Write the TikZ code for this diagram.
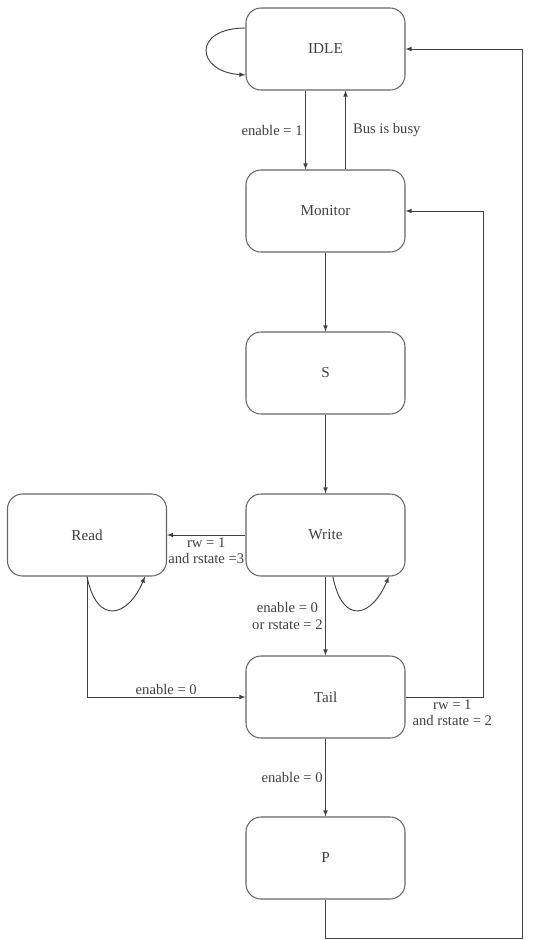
\documentclass[tikz,border=0pt]{standalone}
\usepackage{fontspec}
\setmainfont{Liberation Serif}
\usepackage{tikz}
\usetikzlibrary{arrows, positioning}
\tikzset{>=latex}
\tikzset{
  fsmstate/.style={draw=black!60, line width=0.9pt, rounded corners=0.45cm,
    minimum width=4.77cm, minimum height=2.46cm, text=black!75,
    font=\fontsize{13}{15}\selectfont},
  lbl/.style={text=black!75, font=\fontsize{12.5}{14}\selectfont, align=center, inner sep=2pt},
  trans/.style={->, draw=black!75, line width=0.8pt}
}

\begin{document}
\begin{tikzpicture}[x=0.03cm, y=-0.03cm]
        \useasboundingbox (0,0) rectangle (535,940);
        % states
        \node[fsmstate] (idle) at (325.5,49) {IDLE};
        \node[fsmstate] (mon) at (325.5,211) {Monitor};
        \node[fsmstate] (s) at (325.5,373) {S};
        \node[fsmstate] (write) at (325.5,535) {Write};
        \node[fsmstate] (read) at (87,535) {Read};
        \node[fsmstate] (tail) at (325.5,697) {Tail};
        \node[fsmstate] (p) at (325.5,858) {P};

        % transitions down the middle
        \draw[trans] ([xshift=-0.6cm]idle.south) -- node[lbl, left] {enable = 1} ([xshift=-0.6cm]mon.north);
        \draw[trans] ([xshift=0.6cm]mon.north) -- node[lbl, right, xshift=4pt] {Bus is busy} ([xshift=0.6cm]idle.south);
        \draw[trans] (mon.south) -- (s.north);
        \draw[trans] (s.south) -- (write.north);
        \draw[trans] (write.south) -- node[lbl, left] {enable = 0\\or rstate = 2} (tail.north);
        \draw[trans] (tail.south) -- node[lbl, left] {enable = 0} (p.north);

        % read branch
        \draw[trans] (write.west) -- node[lbl, below] {rw = 1\\and rstate =3} (read.east);
        \draw[trans] (read.south) |- node[lbl, above, pos=0.75] {enable = 0} (tail.west);

        % self loops
        \draw[trans] ([yshift=0.63cm]idle.west) .. controls +(-1.6cm,0cm) and +(-1.5cm,0.1cm) .. ([yshift=-0.78cm]idle.west);
        \draw[trans] ([xshift=0.22cm]write.south) .. controls +(0.3cm,-1.5cm) and +(-0.5cm,-1.2cm) .. ([xshift=1.9cm]write.south);
        \draw[trans] (read.south) .. controls +(0.3cm,-1.5cm) and +(-0.5cm,-1.2cm) .. ([xshift=1.74cm]read.south);

        % back edges on the right
        \draw[trans] (tail.east) -| node[lbl, below, pos=0.3] {rw = 1\\and rstate = 2} ([xshift=2.34cm]mon.east) -- (mon.east);
        \draw[trans] (p.south) -- ++(0,39) -| ([xshift=3.5cm]idle.east) -- (idle.east);
\end{tikzpicture}
\end{document}
